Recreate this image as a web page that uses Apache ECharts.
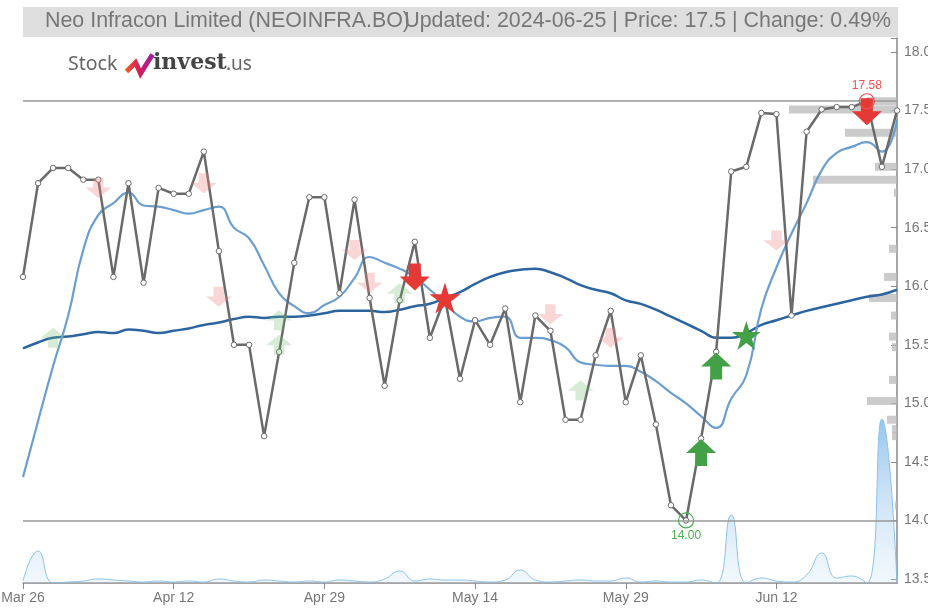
<!DOCTYPE html>
<html>
<head>
<meta charset="utf-8">
<script src="https://cdn.jsdelivr.net/npm/echarts@6/dist/echarts.min.js"></script>
<style>
  html, body { margin: 0; padding: 0; background: #fff; }
  #chart { width: 928px; height: 608px; }
</style>
</head>
<body>
<div id="chart"></div>
<script>
// trading days shown on the chart
const dates = [
  'Mar 26', 'Mar 27', 'Mar 28', 'Apr 1', 'Apr 2', 'Apr 3', 'Apr 4', 'Apr 5', 'Apr 8', 'Apr 10',
  'Apr 12', 'Apr 15', 'Apr 16', 'Apr 18', 'Apr 19', 'Apr 22', 'Apr 23', 'Apr 24', 'Apr 25', 'Apr 26',
  'Apr 29', 'Apr 30', 'May 2', 'May 3', 'May 6', 'May 7', 'May 8', 'May 9', 'May 10', 'May 13',
  'May 14', 'May 15', 'May 16', 'May 17', 'May 21', 'May 22', 'May 23', 'May 24', 'May 27', 'May 28',
  'May 29', 'May 30', 'May 31', 'Jun 3', 'Jun 4', 'Jun 5', 'Jun 6', 'Jun 7', 'Jun 10', 'Jun 11',
  'Jun 12', 'Jun 13', 'Jun 14', 'Jun 18', 'Jun 19', 'Jun 20', 'Jun 21', 'Jun 24', 'Jun 25'
]

const price = [
  16.08, 16.88, 17.01, 17.01, 16.91, 16.91, 16.08, 16.88, 16.03, 16.84,
  16.79, 16.79, 17.15, 16.30, 15.50, 15.50, 14.72, 15.44, 16.20, 16.76,
  16.76, 15.94, 16.74, 15.90, 15.15, 15.88, 16.38, 15.56, 15.90, 15.21,
  15.71, 15.50, 15.81, 15.01, 15.75, 15.62, 14.86, 14.86, 15.41, 15.79,
  15.01, 15.41, 14.82, 14.13, 14.00, 14.70, 15.44, 16.98, 17.02, 17.48,
  17.47, 15.75, 17.32, 17.51, 17.53, 17.53, 17.58, 17.02, 17.50
]

const maShort = [
  14.37, 14.85, 15.32, 15.75, 16.31, 16.61, 16.71, 16.80, 16.69, 16.68,
  16.65, 16.62, 16.65, 16.68, 16.50, 16.41, 16.18, 15.94, 15.83, 15.77,
  15.84, 15.91, 16.07, 16.25, 16.20, 16.15, 16.08, 15.97, 15.86, 15.74,
  15.70, 15.73, 15.74, 15.56, 15.56, 15.54, 15.48, 15.35, 15.33, 15.32,
  15.32, 15.27, 15.19, 15.09, 15.00, 14.89, 14.79, 15.04, 15.24, 15.81,
  16.16, 16.45, 16.71, 16.99, 17.14, 17.19, 17.23, 17.15, 17.42
]

const maLong = [
  15.47, 15.52, 15.56, 15.57, 15.59, 15.61, 15.60, 15.63, 15.62, 15.60,
  15.62, 15.64, 15.67, 15.69, 15.72, 15.74, 15.73, 15.74, 15.74, 15.75,
  15.77, 15.79, 15.79, 15.79, 15.78, 15.80, 15.83, 15.85, 15.90, 15.95,
  16.02, 16.08, 16.12, 16.14, 16.15, 16.12, 16.07, 16.01, 15.97, 15.94,
  15.88, 15.85, 15.80, 15.74, 15.68, 15.62, 15.56, 15.56, 15.60, 15.67,
  15.71, 15.75, 15.79, 15.82, 15.85, 15.88, 15.91, 15.93, 15.97
]

const volume = [
  2, 32, 0, 1, 2, 4, 3, 2, 1, 2,
  1, 2, 1, 4, 2, 1, 3, 2, 1, 2,
  1, 3, 2, 1, 4, 12, 2, 4, 3, 3,
  2, 1, 3, 13, 3, 1, 2, 3, 2, 2,
  5, 1, 2, 1, 1, 3, 0, 68, 0, 5,
  2, 1, 8, 30, 5, 7, 0, 164, 0
]

// volume by price (right side histogram)
const profilePrice = [17.58, 17.51, 17.31, 17.02, 16.91, 16.80, 16.32, 16.08, 15.90, 15.75,
  15.57, 15.48, 15.20, 15.02, 14.86, 14.78, 14.72, 14.13]
const profileVol = [30, 108, 52, 22, 84, 3, 8, 13, 28, 6,
  8, 5, 8, 30, 10, 5, 5, 2]

// signals: [day index, level]
const weakSell = [[5, 16.84], [12, 16.88], [13, 15.91], [22, 16.31], [23, 16.03], [35, 15.76], [39, 15.56], [50, 16.39]]
const weakBuy = [[2, 15.56], [17, 15.71], [17, 15.50], [25, 15.94], [37, 15.11]]
const strongSell = [[26, 16.08], [56, 17.49]]
const strongBuy = [[45, 14.58], [46, 15.32]]
const sellStar = [[28, 15.90]]
const buyStar = [[48, 15.58]]

const yTicks = [13.5, 14.0, 14.5, 15.0, 15.5, 16.0, 16.5, 17.0, 17.5, 18.0]
const yMin = 13.466
const yMax = 18.12

const titleText = 'Neo Infracon Limited (NEOINFRA.BO)'
const subText = 'Updated: 2024-06-25 | Price: 17.5 | Change: 0.49%'

const hi = Math.max(...price)
const lo = Math.min(...price)
const hiIdx = price.indexOf(hi)
const loIdx = price.indexOf(lo)

const downArrow = 'path://M9,0 L21,0 L21,13 L30,13 L15,27 L0,13 L9,13 Z'
const upArrow = 'path://M15,0 L30,14 L21,14 L21,27 L9,27 L9,14 L0,14 Z'
const star = 'path://M50,0 L61.2,34.5 L97.6,34.5 L68.2,55.9 L79.4,90.5 L50,69.1 L20.6,90.5 L31.8,55.9 L2.4,34.5 L38.8,34.5 Z'

const chart = echarts.init(document.getElementById('chart'))

const option = {
  animation: false,
  textStyle: { fontFamily: 'Liberation Sans, Arial, sans-serif' },
  title: [
    { text: titleText, left: 40, top: 6, textStyle: { fontSize: 21.4, fontWeight: 'normal', color: '#777' } },
    { text: subText, right: 32, top: 6, textStyle: { fontSize: 21.4, fontWeight: 'normal', color: '#777' } }
  ],
  graphic: [
    { type: 'rect', left: 23, top: 7, z: -10, shape: { width: 875, height: 30 }, style: { fill: '#dedede' } },
    { type: 'text', left: 68, top: 54, style: { text: 'Stock', fontSize: 19.5, fill: '#666', fontFamily: 'Noto Sans' } },
    {
      type: 'polyline', left: 124, top: 52,
      shape: { points: [[0, 17], [9, 8], [14, 19], [26, 0]] },
      style: {
        stroke: new echarts.graphic.LinearGradient(0, 0, 1, 0, [
          { offset: 0, color: '#f26522' },
          { offset: 0.5, color: '#d81b60' },
          { offset: 1, color: '#8e24aa' }
        ]),
        lineWidth: 5, fill: null, lineJoin: 'miter'
      }
    },
    { type: 'text', left: 153, top: 52, style: { text: 'invest', fontSize: 22, fontWeight: 'bold', fill: '#444', fontFamily: 'DejaVu Serif' } },
    { type: 'text', left: 226, top: 55, style: { text: '.us', fontSize: 19, fill: '#666', fontFamily: 'Noto Sans' } }
  ],
  grid: { left: 23, right: 31, top: 38, bottom: 25, outerBoundsMode: 'none' },
  xAxis: [
    {
      type: 'category',
      data: dates,
      boundaryGap: false,
      axisLine: { lineStyle: { color: '#888', width: 1.5 } },
      axisTick: { interval: 9, length: 6, lineStyle: { color: '#888' } },
      axisLabel: { interval: 9, color: '#777', fontSize: 14, margin: 8 },
      splitLine: { show: false }
    },
    { type: 'value', gridIndex: 0, inverse: true, min: 0, max: 874, show: false }
  ],
  yAxis: [
    {
      type: 'value',
      position: 'right',
      min: yMin,
      max: yMax,
      axisLine: { show: true, lineStyle: { color: '#888', width: 1.5 } },
      axisTick: { show: true, inside: true, length: 6, customValues: yTicks.concat([yMax]), lineStyle: { color: '#888' } },
      axisLabel: { customValues: yTicks, color: '#777', fontSize: 14, margin: 7, formatter: (v) => v.toFixed(1) },
      splitLine: { show: false }
    },
    { type: 'value', min: 0, max: 545, show: false }
  ],
  series: [
    {
      name: 'Volume',
      type: 'line',
      xAxisIndex: 0,
      yAxisIndex: 1,
      data: volume,
      smooth: true,
      symbol: 'none',
      z: 1,
      lineStyle: { color: '#8cc2ea', width: 1 },
      areaStyle: {
        color: new echarts.graphic.LinearGradient(0, 0, 0, 1, [
          { offset: 0, color: 'rgba(90,165,225,0.9)' },
          { offset: 1, color: 'rgba(200,225,245,0.35)' }
        ])
      }
    },
    {
      name: 'Volume profile',
      type: 'custom',
      xAxisIndex: 1,
      yAxisIndex: 0,
      z: 1,
      silent: true,
      data: profilePrice.map((p, i) => [profileVol[i], p]),
      encode: { x: 0, y: 1 },
      renderItem: (params, api) => {
        const start = api.coord([0, api.value(1)])
        const end = api.coord([api.value(0), api.value(1)])
        return {
          type: 'rect',
          shape: { x: end[0], y: start[1] - 4, width: start[0] - end[0], height: 8 },
          style: { fill: 'rgba(185,185,185,0.75)' }
        }
      }
    },
    {
      name: 'MA long',
      type: 'line',
      data: maLong,
      smooth: true,
      symbol: 'none',
      z: 3,
      lineStyle: { color: '#2c64a0', width: 2.5 }
    },
    {
      name: 'MA short',
      type: 'line',
      data: maShort,
      smooth: true,
      symbol: 'none',
      z: 3,
      lineStyle: { color: '#6c9fcf', width: 2.2 }
    },
    {
      name: 'Price',
      type: 'line',
      data: price,
      z: 4,
      symbol: 'circle',
      symbolSize: 5.5,
      itemStyle: { color: '#fff', borderColor: '#6a6a6a', borderWidth: 1 },
      lineStyle: { color: '#6a6a6a', width: 2.5 },
      markLine: {
        silent: true,
        symbol: 'none',
        label: { show: false },
        lineStyle: { color: '#999', width: 1.5, type: 'solid' },
        data: [{ yAxis: hi }, { yAxis: lo }]
      }
    },
    {
      name: 'Weak sell',
      type: 'scatter',
      data: weakSell,
      symbol: downArrow,
      symbolSize: [26, 20],
      z: 5,
      itemStyle: { color: 'rgba(240,130,130,0.4)' }
    },
    {
      name: 'Weak buy',
      type: 'scatter',
      data: weakBuy,
      symbol: upArrow,
      symbolSize: [26, 20],
      z: 5,
      itemStyle: { color: 'rgba(110,185,110,0.35)' }
    },
    {
      name: 'Sell',
      type: 'scatter',
      data: strongSell,
      symbol: downArrow,
      symbolSize: [30, 27],
      z: 6,
      itemStyle: { color: '#e53935', opacity: 1 }
    },
    {
      name: 'Buy',
      type: 'scatter',
      data: strongBuy,
      symbol: upArrow,
      symbolSize: [30, 27],
      z: 6,
      itemStyle: { color: '#43a047', opacity: 1 }
    },
    {
      name: 'Sell star',
      type: 'scatter',
      data: sellStar,
      symbol: star,
      symbolSize: 31,
      z: 6,
      itemStyle: { color: '#e53935', opacity: 1 }
    },
    {
      name: 'Buy star',
      type: 'scatter',
      data: buyStar,
      symbol: star,
      symbolSize: 29,
      z: 6,
      itemStyle: { color: '#43a047', opacity: 1 }
    },
    {
      name: 'High',
      type: 'scatter',
      data: [[hiIdx, hi]],
      symbol: 'circle',
      symbolSize: 15,
      z: 7,
      itemStyle: { color: 'rgba(0,0,0,0)', borderColor: '#f05050', borderWidth: 1.2, opacity: 1 },
      label: { show: true, position: 'top', distance: 1, color: '#f05050', fontSize: 12, formatter: () => hi.toFixed(2) }
    },
    {
      name: 'Low',
      type: 'scatter',
      data: [[loIdx, lo]],
      symbol: 'circle',
      symbolSize: 15,
      z: 7,
      itemStyle: { color: 'rgba(0,0,0,0)', borderColor: '#4caf50', borderWidth: 1.2, opacity: 1 },
      label: { show: true, position: 'bottom', distance: 1, color: '#4caf50', fontSize: 12, formatter: () => lo.toFixed(2) }
    }
  ]
}

chart.setOption(option)
</script>
</body>
</html>
